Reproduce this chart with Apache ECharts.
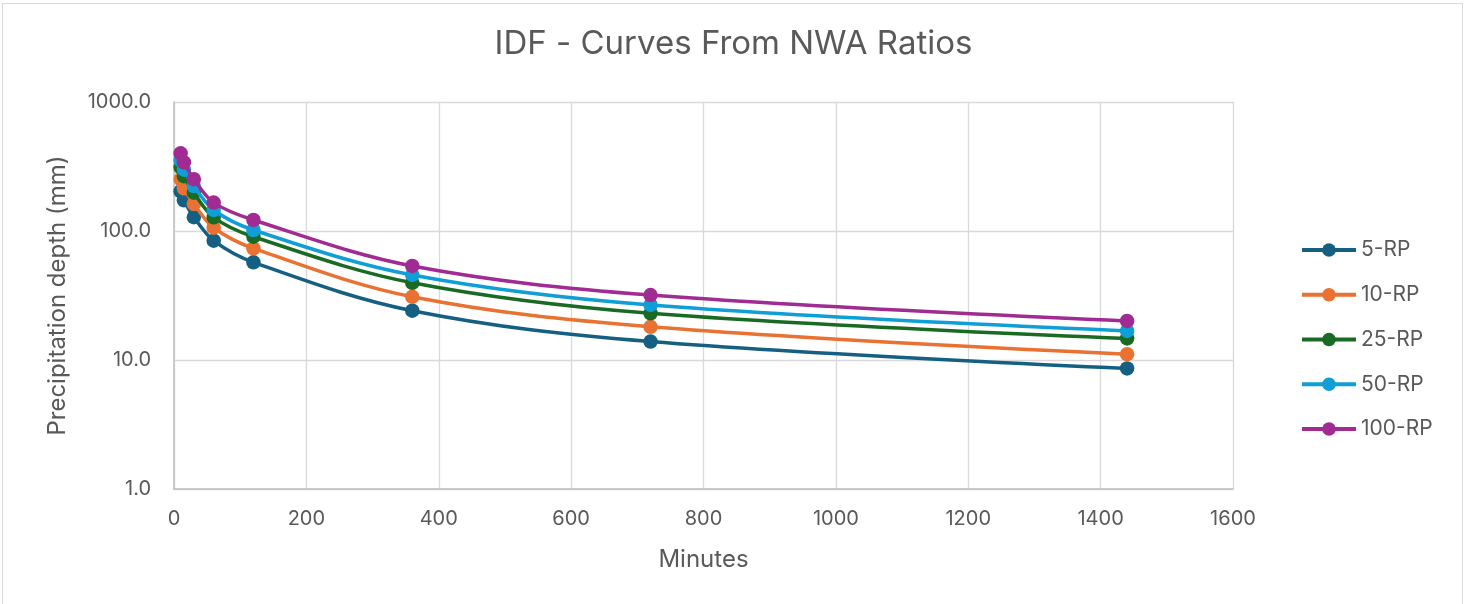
<!DOCTYPE html>
<html>
<head>
<meta charset="utf-8">
<script src="https://cdn.jsdelivr.net/npm/echarts@6/dist/echarts.min.js"></script>
<style>
  html, body { margin: 0; padding: 0; background: #fff; }
  #frame { position: absolute; left: 2px; top: 3px; width: 1461px; height: 640px; border: 1px solid #d9d9d9; box-sizing: border-box; }
  #chart { position: absolute; left: 0; top: 0; width: 1467px; height: 604px; }
</style>
</head>
<body>
<div id="frame"></div>
<div id="chart"></div>
<script>
// Storm durations (minutes)
const minutes = [10, 15, 30, 60, 120, 360, 720, 1440];

// Precipitation depth (mm) per return period
const rp5   = [203, 173, 128, 84.1, 57.2, 24.1, 13.9, 8.6];
const rp10  = [252, 214, 162, 106, 73.4, 30.9, 18.1, 11.1];
const rp25  = [312, 266, 198, 127.7, 90.3, 39.7, 23.0, 14.7];
const rp50  = [352, 299, 223, 145.5, 101.8, 45.6, 26.7, 16.8];
const rp100 = [400, 341, 252, 166, 121.7, 53.6, 31.9, 20.1];

const seriesNames = ['5-RP', '10-RP', '25-RP', '50-RP', '100-RP'];
const seriesValues = [rp5, rp10, rp25, rp50, rp100];
const seriesColors = ['#156082', '#E97132', '#196B24', '#0F9ED5', '#A02B93'];

const xTicks = { min: 0, max: 1600, interval: 200 };
const yTicks = { min: 1, max: 1000 };

const font = 'Inter, "Open Sans", sans-serif';
const textColor = '#595959';

const chart = echarts.init(document.getElementById('chart'), null, { renderer: 'canvas' });

chart.setOption({
  animation: false,
  backgroundColor: 'transparent',
  title: {
    text: 'IDF - Curves From NWA Ratios',
    left: 'center',
    top: 23,
    textStyle: { fontFamily: font, fontSize: 33, fontWeight: 'normal', color: textColor }
  },
  legend: {
    orient: 'vertical',
    left: 1295,
    top: 234,
    itemWidth: 54,
    itemHeight: 17,
    itemGap: 22.75,
    lineStyle: { width: 4 },
    textStyle: { fontFamily: font, fontSize: 21, lineHeight: 22, color: textColor },
    data: seriesNames
  },
  grid: { left: 174, right: 234, top: 102, bottom: 115 },
  xAxis: {
    type: 'value',
    min: xTicks.min,
    max: xTicks.max,
    interval: xTicks.interval,
    name: 'Minutes',
    nameLocation: 'middle',
    nameGap: 59,
    nameTextStyle: { fontFamily: font, fontSize: 24, color: textColor },
    axisLine: { show: true, lineStyle: { color: '#bfbfbf', width: 1.5 } },
    axisTick: { show: false },
    axisLabel: {
      fontFamily: font, fontSize: 20, color: textColor, margin: 20,
      formatter: v => String(v)
    },
    splitLine: { show: true, lineStyle: { color: '#d9d9d9', width: 1.3 } }
  },
  yAxis: {
    type: 'log',
    logBase: 10,
    min: yTicks.min,
    max: yTicks.max,
    name: 'Precipitation depth (mm)',
    nameLocation: 'middle',
    nameGap: 104,
    nameRotate: 90,
    nameTextStyle: { fontFamily: font, fontSize: 24, color: textColor },
    axisLine: { show: true, lineStyle: { color: '#bfbfbf', width: 1.5 } },
    axisTick: { show: false },
    axisLabel: {
      fontFamily: font, fontSize: 20, color: textColor, margin: 23,
      formatter: v => Number(v).toFixed(1)
    },
    splitLine: { show: true, lineStyle: { color: '#d9d9d9', width: 1.3 } }
  },
  series: seriesNames.map((name, i) => ({
    name,
    type: 'line',
    smooth: 0.35,
    data: minutes.map((m, j) => [m, seriesValues[i][j]]),
    symbol: 'circle',
    symbolSize: 14.5,
    showAllSymbol: true,
    lineStyle: { color: seriesColors[i], width: 3.5 },
    itemStyle: { color: seriesColors[i] },
    z: 2 + i
  }))
});
</script>
</body>
</html>
